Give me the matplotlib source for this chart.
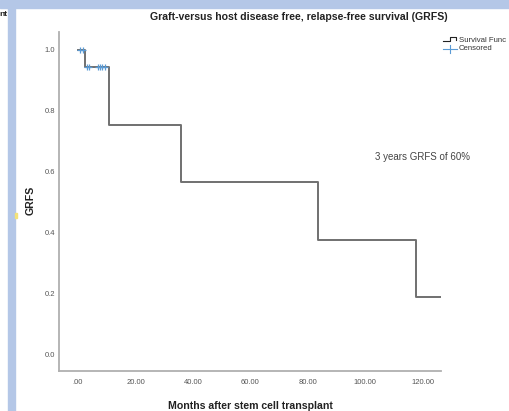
import matplotlib
matplotlib.use("Agg")
import matplotlib.pyplot as plt
from matplotlib.patches import Rectangle
from matplotlib.lines import Line2D

# Data
step_times = [0.0, 2.4, 10.8, 35.8, 83.5, 117.6, 126.3]
step_surv = [1.0, 0.944, 0.755, 0.566, 0.377, 0.189, 0.189]
cens_times = [0.7, 1.7, 3.1, 3.8, 7.0, 7.7, 8.3, 9.4]
cens_surv = [1.0, 1.0, 0.944, 0.944, 0.944, 0.944, 0.944, 0.944]
xticks = [0, 20, 40, 60, 80, 100, 120]
xticklabels = [".00", "20.00", "40.00", "60.00", "80.00", "100.00", "120.00"]
yticks = [0.0, 0.2, 0.4, 0.6, 0.8, 1.0]
yticklabels = ["0.0", "0.2", "0.4", "0.6", "0.8", "1.0"]

W, H = 509, 411
fig = plt.figure(figsize=(W / 100, H / 100), dpi=100)
fig.patch.set_facecolor("white")
plt.rcParams["font.family"] = ["Liberation Sans", "DejaVu Sans"]


def fx(px):
    return px / W


def fy(py):
    return 1 - py / H


blue = "#b4c7e7"
# frame bands of the screenshot
fig.add_artist(Rectangle((0, 1 - 8 / H), 1, 8 / H, transform=fig.transFigure, color=blue, zorder=0))
fig.add_artist(Rectangle((8 / W, 0), 7 / W, 1, transform=fig.transFigure, color=blue, zorder=0))
fig.add_artist(Rectangle((15 / W, 1 - 218 / H), 1.5 / W, 5 / H, transform=fig.transFigure, color="#f3e27a", zorder=1))
fig.text(7.5 / W, fy(15), "nt", ha="right", va="center", fontsize=6, fontweight="bold", color="#222222")

ax = fig.add_axes([59 / W, 40 / H, (441 - 59) / W, (371 - 32) / H])
ax.step(step_times, step_surv, where="post", color="#707070", lw=1.4, zorder=3)
ax.plot(cens_times, cens_surv, ls="none", marker="+", ms=5, mew=0.9, color="#5b9bd5", zorder=4)

ax.set_xlim(-6.6, 126.3)
ax.set_ylim(-0.0525, 1.059)
ax.set_xticks(xticks)
ax.set_xticklabels(xticklabels)
ax.set_yticks(yticks)
ax.set_yticklabels(yticklabels)
ax.tick_params(length=0, labelsize=5.5, labelcolor="#555555")
ax.tick_params(axis="x", pad=5.5)
ax.tick_params(axis="y", pad=3)
for s in ["top", "right"]:
    ax.spines[s].set_visible(False)
for s in ["left", "bottom"]:
    ax.spines[s].set_color("#b0b0b0")
    ax.spines[s].set_linewidth(1.3)

fig.text(fx(299), fy(17), "Graft-versus host disease free, relapse-free survival (GRFS)",
         ha="center", va="center", fontsize=7.6, fontweight="bold", color="#222222")
fig.text(fx(250), fy(406), "Months after stem cell transplant", ha="center", va="center",
         fontsize=7.6, fontweight="bold", color="#222222")
fig.text(fx(31), fy(200), "GRFS", ha="center", va="center", rotation=90,
         fontsize=7.6, fontweight="bold", color="#222222")
fig.text(fx(375), fy(157), "3 years GRFS of 60%", ha="left", va="center",
         fontsize=7.0, color="#444444")

# legend (outside axes, top right)
fig.add_artist(Line2D([fx(443), fx(450), fx(450), fx(456), fx(456)],
                      [fy(41), fy(41), fy(37), fy(37), fy(40)], color="#222222", lw=0.8,
                      transform=fig.transFigure))
fig.add_artist(Line2D([fx(443), fx(457)], [fy(49), fy(49)], color="#5b9bd5", lw=0.8,
                      transform=fig.transFigure))
fig.add_artist(Line2D([fx(450), fx(450)], [fy(45), fy(53)], color="#5b9bd5", lw=0.8,
                      transform=fig.transFigure))
fig.text(fx(459), fy(40), "Survival Func", ha="left", va="center", fontsize=5.6, color="#333333")
fig.text(fx(459), fy(49), "Censored", ha="left", va="center", fontsize=5.6, color="#333333")

fig.savefig("out.png", dpi=100)
